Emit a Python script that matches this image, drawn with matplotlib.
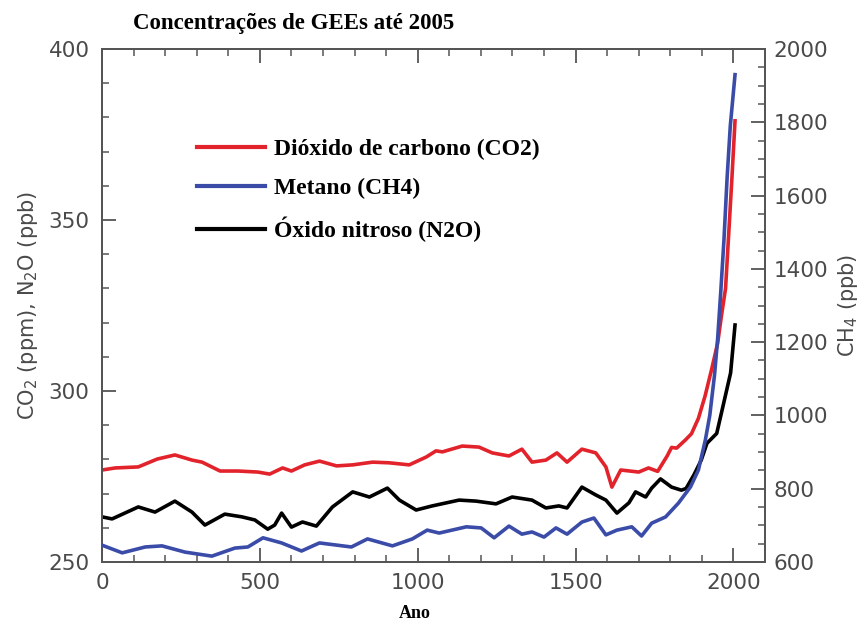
import matplotlib
matplotlib.use("Agg")
import matplotlib.pyplot as plt
from matplotlib.ticker import MultipleLocator

# ---- data ----
co2_years = [0, 42, 115, 175, 231, 285, 317, 374, 431, 494, 531, 572, 600, 642, 689, 743, 794,
             857, 910, 973, 1027, 1058, 1078, 1141, 1194, 1236, 1289, 1330, 1362, 1406, 1441,
             1473, 1520, 1564, 1596, 1615, 1643, 1700, 1731, 1760, 1790, 1804, 1820, 1848,
             1867, 1889, 1910, 1930, 1950, 1962, 1975, 1985, 1995, 2005]
co2_vals = [276.9, 277.5, 277.8, 280.1, 281.3, 279.8, 279.2, 276.6, 276.6, 276.3, 275.7, 277.5,
            276.6, 278.4, 279.5, 278.1, 278.4, 279.2, 279.0, 278.4, 280.7, 282.5, 282.2, 283.9,
            283.6, 281.9, 281.0, 283.0, 279.2, 279.8, 281.9, 279.2, 283.0, 281.9, 277.8, 271.9,
            276.9, 276.3, 277.5, 276.5, 281.0, 283.5, 283.3, 285.7, 287.5, 292.0, 298.5, 306.0,
            314.0, 322.0, 330.0, 346.0, 362.0, 379.0]

ch4_years = [0, 64, 137, 190, 263, 348, 421, 462, 510, 569, 632, 673, 689, 790, 841, 920, 983,
             1030, 1068, 1154, 1201, 1242, 1289, 1330, 1362, 1400, 1438, 1473, 1520, 1558, 1596,
             1631, 1678, 1709, 1741, 1785, 1826, 1864, 1889, 1911, 1925, 1940, 1950, 1960,
             1970, 1980, 1990, 2005]
ch4_vals = [646, 625, 641, 644, 627, 616, 638, 641, 666, 652, 630, 646, 652, 641, 663, 644, 663,
            687, 679, 696, 693, 666, 698, 676, 682, 668, 693, 676, 709, 720, 674, 687, 696, 671,
            706, 723, 761, 805, 851, 933, 1000, 1110, 1210, 1340, 1480, 1650, 1790, 1930]

n2o_years = [0, 32, 115, 168, 231, 285, 326, 389, 443, 484, 525, 547, 569, 600, 635, 679, 730,
             794, 847, 904, 942, 995, 1046, 1131, 1185, 1248, 1299, 1362, 1406, 1447, 1473, 1520,
             1564, 1596, 1631, 1669, 1690, 1722, 1741, 1769, 1804, 1835, 1850, 1875, 1898, 1916,
             1947, 1962, 1991, 2005]
n2o_vals = [263.2, 262.6, 266.1, 264.6, 267.8, 264.6, 260.8, 264.0, 263.2, 262.3, 259.6, 260.8,
            264.3, 260.2, 261.7, 260.5, 266.1, 270.5, 269.0, 271.6, 268.1, 265.2, 266.4, 268.1,
            267.8, 267.0, 269.0, 268.1, 265.8, 266.4, 265.8, 271.9, 269.6, 268.1, 264.3, 267.3,
            270.5, 269.0, 271.6, 274.3, 271.9, 271.0, 271.5, 275.5, 279.8, 284.7, 287.6, 293.6,
            305.3, 319.3]

labels = ["Dióxido de carbono (CO2)", "Metano (CH4)", "Óxido nitroso (N2O)"]
title = "Concentrações de GEEs até 2005"

RED = "#e3232c"
BLUE = "#3a4ca8"
BLACK = "#000000"
SPINE = "#555555"
TXT = "#4a4a4a"

plt.rcParams["mathtext.default"] = "regular"

fig = plt.figure(figsize=(8.62, 6.25), dpi=100)
ax = fig.add_axes([0.1183, 0.1008, 0.7692, 0.8208])
ax2 = ax.twinx()

l1, = ax.plot(co2_years, co2_vals, color=RED, lw=2.6, label=labels[0], zorder=3)
l3, = ax.plot(n2o_years, n2o_vals, color=BLACK, lw=2.6, label=labels[2], zorder=3)
l2, = ax2.plot(ch4_years, ch4_vals, color=BLUE, lw=2.6, label=labels[1], zorder=3)

ax.set_xlim(0, 2100)
ax.set_ylim(250, 400)
ax2.set_ylim(600, 2000)

ax.xaxis.set_major_locator(MultipleLocator(500))
ax.xaxis.set_minor_locator(MultipleLocator(100))
ax.yaxis.set_major_locator(MultipleLocator(50))
ax.yaxis.set_minor_locator(MultipleLocator(10))
ax2.yaxis.set_major_locator(MultipleLocator(200))
ax2.yaxis.set_minor_locator(MultipleLocator(50))

for a in (ax, ax2):
    for s in a.spines.values():
        s.set_color(SPINE)
        s.set_linewidth(1.4)

ax.tick_params(axis="x", which="both", direction="in", top=True, bottom=True,
               colors=SPINE, labelcolor=TXT, labelsize=15.5, pad=8)
ax.tick_params(axis="y", which="both", direction="in", left=True, right=False,
               colors=SPINE, labelcolor=TXT, labelsize=15.5, pad=9)
ax2.tick_params(axis="y", which="both", direction="in", right=True, left=False,
                colors=SPINE, labelcolor=TXT, labelsize=15.5, pad=6)
for a in (ax, ax2):
    a.tick_params(which="major", length=10, width=1.3)
    a.tick_params(which="minor", length=5, width=1.1)

ax.set_ylabel("CO$_2$ (ppm), N$_2$O (ppb)", fontsize=15, color=TXT, labelpad=6)
ax2.set_ylabel("CH$_4$ (ppb)", fontsize=15, color=TXT, labelpad=6)

fig.text(415 / 862, 1 - 614 / 625, "Ano", fontsize=13, fontweight="bold",
         family="Liberation Serif", color="black", ha="center", va="center")

fig.text(0.154, 0.963, title, fontsize=16.5, fontweight="bold", family="Liberation Serif",
         ha="left", va="center", color="black")

leg = ax2.legend([l1, l2, l3], labels, loc="upper left", bbox_to_anchor=(0.143, 0.826),
                 frameon=False, borderpad=0, borderaxespad=0, handlelength=2.9,
                 handletextpad=0.35, labelspacing=0.75,
                 prop={"family": "Liberation Serif", "weight": "bold", "size": 17})
for h in leg.get_lines():
    h.set_linewidth(3)

fig.savefig("out.png", dpi=100)
